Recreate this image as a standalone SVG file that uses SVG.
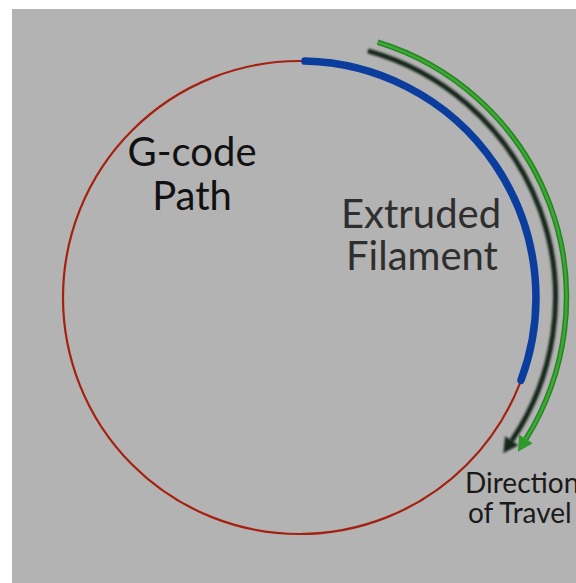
<svg xmlns="http://www.w3.org/2000/svg" width="576" height="583" viewBox="0 0 576 583">
<defs>
<style>
.lbl{font-family:Lato,"Open Sans","DejaVu Sans",sans-serif;}
.big{font-size:40px;}
.small{font-size:28px;}
</style>
<filter id="blur" x="-20%" y="-20%" width="140%" height="140%"><feGaussianBlur stdDeviation="1.1"/></filter>
<marker id="headG" markerUnits="userSpaceOnUse" markerWidth="20" markerHeight="20" viewBox="0 -10 16 20" refX="0" refY="0" orient="auto"><path d="M0,-8 L15,0 L0,8 z" fill="#2f9a2b"/></marker>
<marker id="headD" markerUnits="userSpaceOnUse" markerWidth="20" markerHeight="20" viewBox="0 -10 16 20" refX="0" refY="0" orient="auto"><path d="M0,-8 L15,0 L0,8 z" fill="#18281a"/></marker>
</defs>
<rect x="12" y="9" width="564" height="574" fill="#b3b3b3"/>
<g id="gcode-path">
<circle cx="299.5" cy="297.5" r="236.5" fill="none" stroke="#a5200f" stroke-width="2.2"/>
</g>
<g id="filament">
<path d="M304.9,61.1 A236.5,236.5 0 0 1 521.0,380.3" fill="none" stroke="#0b3d9e" stroke-width="7.5" stroke-linecap="round"/>
</g>
<g id="connectors">
<g id="arrow-shadow" filter="url(#blur)">
<path d="M367.9,50.8 A256,256 0 0 1 511.7,440.7" fill="none" stroke="#18281a" stroke-width="5" marker-end="url(#headD)"/>
</g>
<g id="arrow-travel">
<path d="M377.6,42.2 A267,267 0 0 1 525.9,439.0" fill="none" stroke="#23861f" stroke-width="5.5" marker-end="url(#headG)"/>
<path d="M377.6,42.2 A267,267 0 0 1 525.9,439.0" fill="none" stroke="#3fa637" stroke-width="2.5"/>
</g>
</g>
<g id="label-gcode" class="lbl big" fill="#111">
<text x="192" y="166" text-anchor="middle">G-code</text>
<text x="192" y="210" text-anchor="middle">Path</text>
</g>
<g id="label-filament" class="lbl big" fill="#2e2e2e">
<text x="421" y="228" text-anchor="middle">Extruded</text>
<text x="422" y="270" text-anchor="middle">Filament</text>
</g>
<g id="label-direction" class="lbl small" fill="#1a1a1a">
<text x="465" y="493">Direction</text>
<text x="468" y="523">of Travel</text>
</g>
</svg>
